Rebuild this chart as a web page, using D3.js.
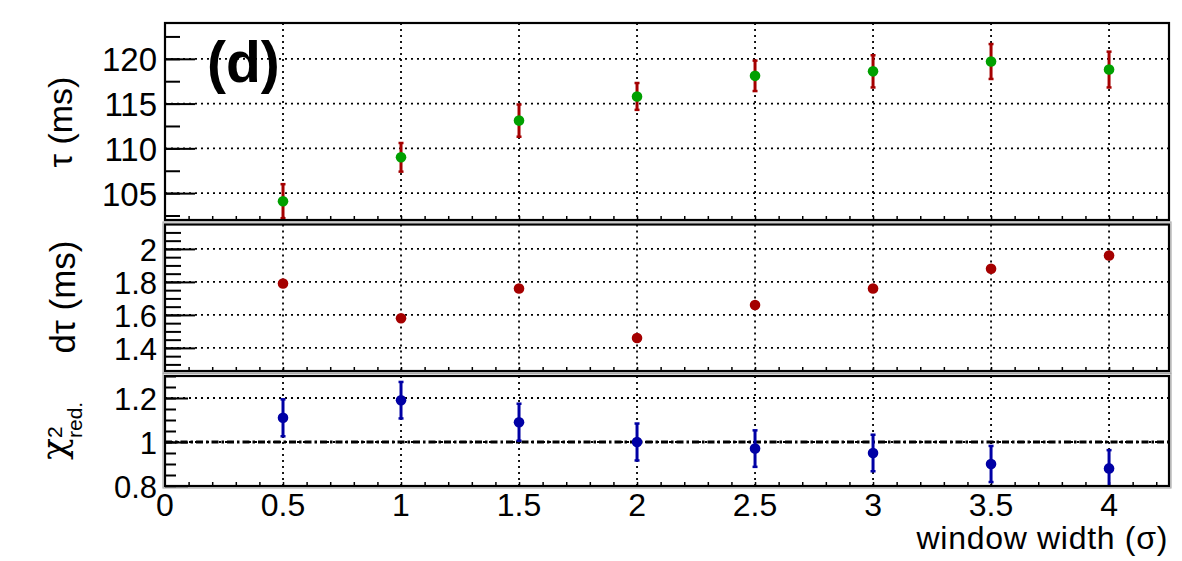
<!DOCTYPE html>
<html>
<head>
<meta charset="utf-8">
<script src="https://cdn.jsdelivr.net/npm/d3@7"></script>
<style>
  body { margin: 0; background: #fff; }
  text { font-family: "Liberation Sans", Arial, Helvetica, sans-serif; fill: #000; }
</style>
</head>
<body>
<svg id="chart" width="1182" height="561"></svg>
<script>
// window width values (sigma)
var windowWidth = [0.5, 1, 1.5, 2, 2.5, 3, 3.5, 4];
// fitted lifetime tau (ms) and its error
var tau = [104.1, 109.0, 113.1, 115.8, 118.1, 118.6, 119.7, 118.8];
var tauErr = [1.9, 1.6, 1.8, 1.5, 1.7, 1.8, 1.95, 2.0];
// d tau (ms)
var dTau = [1.79, 1.58, 1.76, 1.46, 1.66, 1.76, 1.88, 1.96];
// reduced chi2 and its error
var chi2 = [1.11, 1.19, 1.09, 1.00, 0.97, 0.95, 0.90, 0.88];
var chi2Err = [0.084, 0.083, 0.084, 0.084, 0.083, 0.083, 0.082, 0.083];

var xTicks = [0, 0.5, 1, 1.5, 2, 2.5, 3, 3.5, 4];
var xTickLabels = ['0', '0.5', '1', '1.5', '2', '2.5', '3', '3.5', '4'];
var tauTicks = [105, 110, 115, 120];
var dTauTicks = [1.4, 1.6, 1.8, 2];
var dTauTickLabels = ['1.4', '1.6', '1.8', '2'];
var chi2Ticks = [0.8, 1, 1.2];
var chi2TickLabels = ['0.8', '1', '1.2'];

var svg = d3.select('#chart');
var left = 165, right = 1169;

var x = d3.scaleLinear().domain([0, 4.254]).range([left, right]);

var panels = [
    {id: 'tau', top: 23, bottom: 220, domain: [102, 124], major: tauTicks, labels: tauTicks.map(String),
     minorStep: 2.5, font: 33, tickLen: 30, minorLen: 15},
    {id: 'dtau', top: 224.5, bottom: 371, domain: [1.26, 2.148], major: dTauTicks, labels: dTauTickLabels,
     minorStep: 0.05, font: 31, tickLen: 30, minorLen: 16},
    {id: 'chi2', top: 376, bottom: 486, domain: [0.8, 1.3], major: chi2Ticks, labels: chi2TickLabels,
     minorStep: 0.05, font: 31, tickLen: 23, minorLen: 11}
];

function minorValues(domain, step) {
    var out = [];
    var start = Math.ceil(domain[0] / step - 1e-6);
    for (var k = start; k * step <= domain[1] + 1e-9; k++) out.push(+(k * step).toFixed(4));
    return out;
}

panels.forEach(function (p) {
    p.y = d3.scaleLinear().domain(p.domain).range([p.bottom, p.top]);
    var g = svg.append('g').attr('class', 'panel-' + p.id);

    g.append('clipPath').attr('id', 'clip-' + p.id)
        .append('rect').attr('x', left).attr('y', p.top).attr('width', right - left).attr('height', p.bottom - p.top);

    // dotted grid
    g.selectAll('.gx').data(xTicks.slice(1)).enter().append('line')
        .attr('x1', function (d) { return x(d); }).attr('x2', function (d) { return x(d); })
        .attr('y1', p.top).attr('y2', p.bottom)
        .attr('stroke', '#000').attr('stroke-width', 1.8).attr('stroke-dasharray', '2,4');
    g.selectAll('.gy').data(p.major.filter(function (d) { return d > p.domain[0]; })).enter().append('line')
        .attr('x1', left).attr('x2', right)
        .attr('y1', function (d) { return p.y(d); }).attr('y2', function (d) { return p.y(d); })
        .attr('stroke', '#000').attr('stroke-width', 1.8).attr('stroke-dasharray', '2,4');

    // y ticks, pointing inward
    g.append('g').attr('transform', 'translate(' + left + ',0)')
        .call(d3.axisRight(p.y).tickValues(minorValues(p.domain, p.minorStep)).tickSize(p.minorLen).tickFormat(''))
        .call(function (a) { a.select('.domain').remove(); a.selectAll('line').attr('stroke-width', 2); });
    g.append('g').attr('transform', 'translate(' + left + ',0)')
        .call(d3.axisRight(p.y).tickValues(p.major).tickSize(p.tickLen).tickFormat(''))
        .call(function (a) { a.select('.domain').remove(); a.selectAll('line').attr('stroke-width', 2); });

    // x ticks at the bottom of each panel, pointing up
    g.append('g').attr('transform', 'translate(0,' + p.bottom + ')')
        .call(d3.axisTop(x).tickValues(d3.range(1, 43).map(function (k) { return k / 10; })).tickSize(4).tickFormat(''))
        .call(function (a) { a.select('.domain').remove(); a.selectAll('line').attr('stroke-width', 1.5); });

    // y tick labels
    g.selectAll('.yl').data(p.major).enter().append('text')
        .attr('x', 157).attr('y', function (d) { return p.y(d); })
        .attr('dy', '0.38em').attr('text-anchor', 'end').attr('font-size', p.font)
        .text(function (d, i) { return p.labels[i]; });

    p.g = g;
});

// pad separators (light gray) and frames
[panels[1], panels[2]].forEach(function (p) {
    svg.append('rect').attr('x', left - 2).attr('y', p.top - 2.5).attr('width', right - left + 4).attr('height', p.bottom - p.top + 4.5)
        .attr('fill', 'none').attr('stroke', '#aaa').attr('stroke-width', 1.2);
});
panels.forEach(function (p) {
    svg.append('rect').attr('x', left).attr('y', p.top).attr('width', right - left).attr('height', p.bottom - p.top)
        .attr('fill', 'none').attr('stroke', '#000').attr('stroke-width', 2.2);
});

// reference line at chi2 = 1
var pc = panels[2];
pc.g.append('line').attr('x1', left).attr('x2', right).attr('y1', pc.y(1)).attr('y2', pc.y(1))
    .attr('stroke', '#000').attr('stroke-width', 2.8).attr('stroke-dasharray', '7,3,2.5,3');

function errorBars(p, vals, errs, color) {
    var eg = p.g.append('g').attr('clip-path', 'url(#clip-' + p.id + ')');
    windowWidth.forEach(function (w, i) {
        var cx = x(w), lo = p.y(vals[i] - errs[i]), hi = p.y(vals[i] + errs[i]);
        eg.append('line').attr('x1', cx).attr('x2', cx).attr('y1', lo).attr('y2', hi)
            .attr('stroke', color).attr('stroke-width', 3);
        [lo, hi].forEach(function (yy) {
            eg.append('line').attr('x1', cx - 2.5).attr('x2', cx + 2.5).attr('y1', yy).attr('y2', yy)
                .attr('stroke', color).attr('stroke-width', 2.5);
        });
    });
}

function markers(p, vals, color) {
    p.g.append('g').attr('clip-path', 'url(#clip-' + p.id + ')')
        .selectAll('circle').data(vals).enter().append('circle')
        .attr('cx', function (d, i) { return x(windowWidth[i]); })
        .attr('cy', function (d) { return p.y(d); })
        .attr('r', 5.3).attr('fill', color);
}

errorBars(panels[0], tau, tauErr, '#a50000');
markers(panels[0], tau, '#00a000');
markers(panels[1], dTau, '#a50000');
errorBars(panels[2], chi2, chi2Err, '#0000a5');
markers(panels[2], chi2, '#0000a5');

// x tick labels
svg.selectAll('.xl').data(xTicks).enter().append('text')
    .attr('x', function (d) { return x(d); }).attr('y', 516)
    .attr('text-anchor', 'middle').attr('font-size', 32)
    .text(function (d, i) { return xTickLabels[i]; });

svg.append('text').attr('x', 1168).attr('y', 549).attr('text-anchor', 'end')
    .attr('font-size', 32).attr('letter-spacing', 0.7).text('window width (\u03c3)');

// y titles
svg.append('text').attr('transform', 'translate(72,122) rotate(-90)').attr('text-anchor', 'middle')
    .attr('font-size', 34).text('\u03c4 (ms)');
svg.append('text').attr('transform', 'translate(75,297) rotate(-90)').attr('text-anchor', 'middle')
    .attr('font-size', 35).text('d\u03c4 (ms)');

var chiT = svg.append('g').attr('transform', 'translate(66,460) rotate(-90)');
chiT.append('text').attr('x', 0).attr('y', 0).attr('font-size', 36)
    .style('font-family', '"DejaVu Serif", serif').text('\u03c7');
chiT.append('text').attr('x', 22).attr('y', -4).attr('font-size', 21).text('2');
chiT.append('text').attr('x', 22).attr('y', 16).attr('font-size', 21).text('red.');

// panel tag
svg.append('text').attr('x', 207).attr('y', 82).attr('font-size', 57).attr('font-weight', 'bold').text('(d)');
</script>
</body>
</html>
